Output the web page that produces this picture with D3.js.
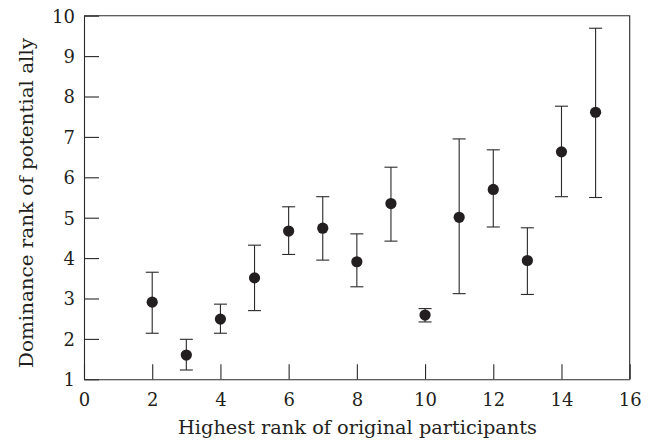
<!DOCTYPE html>
<html>
<head>
<meta charset="utf-8">
<script src="https://cdn.jsdelivr.net/npm/d3@7"></script>
<style>
  body { margin: 0; background: #fff; }
  text { font-family: "DejaVu Serif", "Liberation Serif", serif; fill: #231f20; }
</style>
</head>
<body>
<div id="container"></div>
<script>
// highest rank of original participants
const ranks = [2, 3, 4, 5, 6, 7, 8, 9, 10, 11, 12, 13, 14, 15];
// mean dominance rank of potential ally
const means = [2.91, 1.60, 2.49, 3.51, 4.67, 4.74, 3.91, 5.35, 2.59, 5.01, 5.70, 3.94, 6.63, 7.61];
const uppers = [3.65, 1.99, 2.86, 4.32, 5.27, 5.52, 4.60, 6.25, 2.75, 6.95, 6.68, 4.75, 7.76, 9.69];
const lowers = [2.14, 1.23, 2.14, 2.70, 4.09, 3.95, 3.29, 4.42, 2.42, 3.12, 4.77, 3.10, 5.52, 5.50];
const xTicks = [0, 2, 4, 6, 8, 10, 12, 14, 16];
const yTicks = [1, 2, 3, 4, 5, 6, 7, 8, 9, 10];

const w = 653; // canvas width
const h = 441; // canvas height
const m = {top: 15.7, right: 23.3, bottom: 61.7, left: 84};

const data = ranks.map((r, i) => ({x: r, y: means[i], hi: uppers[i], lo: lowers[i]}));

const svg = d3.select("#container").append("svg").attr("width", w).attr("height", h);

const xScale = d3.scaleLinear().domain([0, 16]).range([m.left, w - m.right]);
const yScale = d3.scaleLinear().domain([1, 10]).range([h - m.bottom, m.top]);

const ink = "#2b2829";

// frame top + right
svg.append("path")
    .attr("d", `M${m.left},${m.top}H${w - m.right}V${h - m.bottom}`)
    .attr("fill", "none").attr("stroke", ink).attr("stroke-width", 1.1);

const xAxis = d3.axisBottom(xScale).tickValues(xTicks).tickSizeInner(-15).tickSizeOuter(0).tickFormat(d3.format("d"));
const gx = svg.append("g").attr("transform", `translate(0, ${h - m.bottom})`).call(xAxis);
gx.selectAll("text").attr("y", 26.7).attr("dy", 0).style("font-size", "18px").attr("fill", "#231f20");

const yAxis = d3.axisLeft(yScale).tickValues(yTicks).tickSizeInner(-15).tickSizeOuter(0).tickFormat(d3.format("d"));
const gy = svg.append("g").attr("transform", `translate(${m.left}, 0)`).call(yAxis);
gy.selectAll("text").attr("x", -9).attr("dy", "0.36em").style("font-size", "18px").attr("fill", "#231f20");

svg.selectAll(".domain, .tick line").attr("stroke", ink).attr("stroke-width", 1.1);

// error bars
const bars = svg.append("g").attr("stroke", ink).attr("stroke-width", 1.1);
bars.selectAll("line.v").data(data).enter().append("line").attr("class", "v")
    .attr("x1", (d) => xScale(d.x)).attr("x2", (d) => xScale(d.x))
    .attr("y1", (d) => yScale(d.hi)).attr("y2", (d) => yScale(d.lo));
bars.selectAll("line.hi").data(data).enter().append("line").attr("class", "hi")
    .attr("x1", (d) => xScale(d.x) - 6.5).attr("x2", (d) => xScale(d.x) + 6.5)
    .attr("y1", (d) => yScale(d.hi)).attr("y2", (d) => yScale(d.hi));
bars.selectAll("line.lo").data(data).enter().append("line").attr("class", "lo")
    .attr("x1", (d) => xScale(d.x) - 6.5).attr("x2", (d) => xScale(d.x) + 6.5)
    .attr("y1", (d) => yScale(d.lo)).attr("y2", (d) => yScale(d.lo));

svg.selectAll("circle").data(data).enter().append("circle")
    .attr("cx", (d) => xScale(d.x)).attr("cy", (d) => yScale(d.y))
    .attr("r", 5.6).attr("fill", "#231f20");

// axis titles
svg.append("text")
    .attr("x", 357.5).attr("y", 434.3)
    .attr("text-anchor", "middle").style("font-size", "18px")
    .attr("textLength", 359).attr("lengthAdjust", "spacingAndGlyphs")
    .text("Highest rank of original participants");

svg.append("text")
    .attr("transform", "translate(33, 203) rotate(-90)")
    .attr("text-anchor", "middle").style("font-size", "18px")
    .attr("textLength", 330).attr("lengthAdjust", "spacingAndGlyphs")
    .text("Dominance rank of potential ally");
</script>
</body>
</html>
